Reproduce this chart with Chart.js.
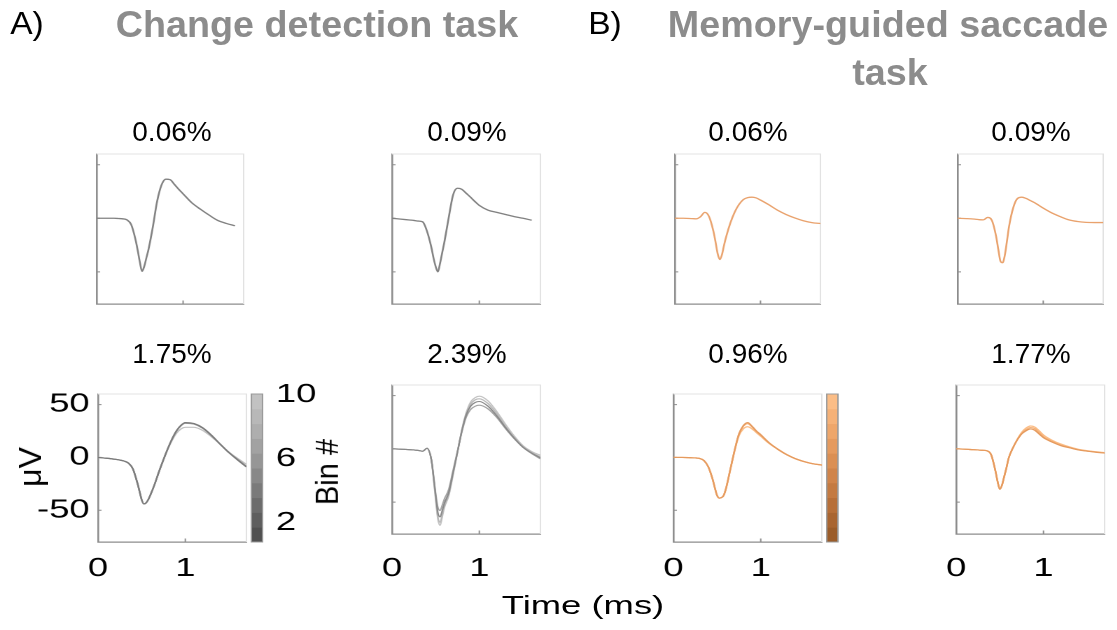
<!DOCTYPE html>
<html>
<head>
<meta charset="utf-8">
<script src="https://cdn.jsdelivr.net/npm/chart.js@4.4.0/dist/chart.umd.min.js"></script>
<style>
  html, body { margin: 0; padding: 0; background: #fff; }
  body { width: 1117px; height: 630px; overflow: hidden; position: relative; font-family: "Liberation Sans", Arial, sans-serif; }
  #figuur { position: absolute; left: 0; top: 0; height: 630px; transform-origin: 0 0; }
  #figuur canvas { position: absolute; }
  .tekst { position: absolute; white-space: nowrap; color: #000; line-height: 1; }
  .kop { font-weight: bold; color: #8c8c8c; }
</style>
</head>
<body>
<div id="figuur"></div>
<script>
"use strict";

const tijd = [0, 0.1, 0.2, 0.25, 0.3, 0.35, 0.4, 0.45, 0.475, 0.5, 0.525, 0.55, 0.575, 0.6, 0.65, 0.7, 0.75, 0.8, 0.85, 0.9, 0.95, 1.0, 1.1, 1.2, 1.3, 1.4, 1.5, 1.6, 1.7];

// Change detection task, bovenste rij: de bins vallen hier samen tot één lijn.
const cd006 = [0, 0, 0, -0.2, -0.5, -1.5, -6, -20, -30, -41, -49.5, -45, -37, -29, -8, 16, 31, 36.5, 36, 31.5, 27, 22.8, 14.5, 8.5, 3, -2, -4.8, -7, null];
const cd009 = [0, -0.8, -1.6, -2, -2.6, -3.3, -12, -27, -37, -45, -50, -42, -32, -22, 1, 22, 28, 27, 23.3, 19.6, 15.6, 12, 7.6, 5.5, 3.5, 1.6, 0, -1.8, null];

// Change detection task, onderste rij: een paar bins apart.
const cd175Bin1 = [0, -0.8, -1.8, -2.5, -3.5, -5.5, -11, -24, -32, -40, -44, -43, -40, -35.5, -25, -13, -2, 8.5, 18, 25.5, 30.5, 33, 32, 28, 21, 12.5, 4.5, -2.5, -9];
const cd175Bin5 = [0, -0.8, -1.8, -2.5, -3.5, -5.5, -11, -24, -32, -40, -44, -43, -40, -35.5, -25, -13, -2, 8.5, 17.5, 25, 30, 32.3, 31.5, 27.5, 20.5, 12.5, 4.5, -2, -8.5];
const cd175Bin10 = [0, -0.8, -1.8, -2.5, -3.5, -5.5, -11, -24, -32, -40, -44, -43, -40, -35.5, -25, -13, -2, 8, 16.5, 23, 27, 28.5, 28.5, 25.5, 19.5, 12.5, 5, -1, -6.5];

const cd239Bin1 = [0, -0.3, -0.8, -1, -1.5, -2.2, 0.5, -10, -26, -44, -60, -64, -58, -51, -41, -22, -3, 17, 32, 40, 43.5, 44.5, 40, 31, 20, 10, 1.5, -4, -8.5];
const cd239Bin4 = [0, -0.3, -0.8, -1, -1.5, -2.2, 0.5, -10, -25, -42, -55, -58, -53, -47, -38, -20, -2, 16, 30, 37, 40, 41, 37.5, 29.5, 19, 9.5, 1.5, -4.5, -9.5];
const cd239Bin7 = [0, -0.3, -0.8, -1, -1.5, -2.2, 0.5, -10, -27, -46, -64, -69, -62, -54, -43, -23, -3, 17.5, 33, 42, 46, 47, 42.5, 33, 21, 10.5, 2, -3.5, -7.5];
const cd239Bin10 = [0, -0.3, -0.8, -1, -1.5, -2.2, 0.5, -10, -28, -48, -66, -72, -64, -55, -44, -24, -3, 18, 34, 44, 48, 49.5, 45, 35, 23, 12, 3, -2.5, -6];

// Memory-guided saccade task, bovenste rij.
const mg006 = [0, 0, -0.3, -0.5, 1.5, 5.5, 1.5, -12, -22, -33, -38.5, -34, -25, -17, -4, 6, 13, 17.5, 19.3, 19.7, 19, 17, 12.5, 7.5, 3.5, 0.3, -2.3, -4, -4.9];
const mg009 = [0, -0.3, -0.8, -1.3, -1.5, 0.8, -2, -17, -29, -40, -41.5, -35, -22, -8, 10, 18.5, 19.7, 18.5, 16.5, 14.5, 12, 9.5, 5, 1.5, -1.5, -3, -3.8, -4, -4];

// Memory-guided saccade task, onderste rij.
const mg096Bin1 = [0, 0, -0.3, -0.5, -1, -3, -9, -21, -29, -36, -38.5, -38, -36, -30, -12, 6.5, 22, 30, 33, 29.5, 25, 21.5, 13.5, 7.5, 2.5, -1.3, -4, -6, -7.3];
const mg096Bin5 = [0, 0, -0.3, -0.5, -1, -3, -9, -21, -29, -36, -38.5, -38, -36, -30, -12, 6.5, 22, 29.5, 32, 29, 24.5, 21, 13.5, 7.5, 2.5, -1.3, -4, -6, -7.3];
const mg096Bin10 = [0, 0, -0.3, -0.5, -1, -3, -9, -21, -29, -36, -38.5, -38, -36, -30, -12, 6, 20.5, 27, 29, 27, 23.5, 20, 13, 7.5, 2.5, -1.3, -4, -6, -7];

const mg177Bin1 = [0, -0.3, -0.8, -1, -1.3, -1.8, -5.5, -21, -31, -38, -34, -26, -18, -9, 1, 8.5, 14, 17, 18.7, 17.5, 14, 10.5, 6.3, 3, 1, -1, -2.2, -3.2, -4];
const mg177Bin5 = [0, -0.3, -0.8, -1, -1.3, -1.8, -5.5, -21, -31, -38, -34, -26, -18, -9, 1, 8.5, 14.5, 18, 20, 19, 15.5, 11.5, 7, 3.5, 1.2, -0.8, -2, -3, -3.8];
const mg177Bin10 = [0, -0.3, -0.8, -1, -1.3, -1.8, -5.5, -21, -31, -38, -34, -26, -18, -9, 1, 9, 15.5, 19.5, 21.5, 20.5, 17, 13, 8, 4.5, 1.8, -0.4, -1.7, -2.7, -3.5];

// Labels van assen, kleurbalk en panelen.
const yTicks = [-50, 0, 50];
const xTicks = [0, 1];
const binTicks = [2, 6, 10];
const percentages = ["0.06%", "0.09%", "0.06%", "0.09%", "1.75%", "2.39%", "0.96%", "1.77%"];

// Kleuren per bin (1 = donker, 10 = licht).
const grijsBins = ["#505050", "#5e5e5e", "#6c6c6c", "#7a7a7a", "#888888", "#969696", "#a2a2a2", "#aeaeae", "#b8b8b8", "#c2c2c2"];
const oranjeBins = ["#9b5c29", "#a96530", "#b76f38", "#c47a41", "#d0844a", "#db8f53", "#e59a5e", "#eea66a", "#f5b177", "#fbbd86"];

// De plotjes in het origineel zijn horizontaal uitgerekt; ze worden smal getekend en daarna opgerekt.
const S = 1.4;
const LETTER = "'Liberation Sans', Arial, sans-serif";
const figuur = document.getElementById("figuur");
figuur.style.width = (1117 / S) + "px";
figuur.style.transform = "scaleX(" + S + ")";

// Lichte rand rond het plotvlak en korte maatstreepjes naar binnen.
const kaderPlugin = {
    id: "kader",
    beforeDatasetsDraw(chart) {
        const { ctx, chartArea: a, scales } = chart;
        ctx.save();
        ctx.strokeStyle = "#e2e2e2";
        ctx.lineWidth = 1;
        ctx.beginPath();
        ctx.moveTo(a.left, a.top);
        ctx.lineTo(a.right, a.top);
        ctx.lineTo(a.right, a.bottom);
        ctx.stroke();

        ctx.strokeStyle = "#8c8c8c";
        ctx.beginPath();
        yTicks.forEach(v => {
            const p = scales.y.getPixelForValue(v);
            ctx.moveTo(a.left, p);
            ctx.lineTo(a.left + 2.5, p);
        });
        xTicks.forEach(v => {
            const p = scales.x.getPixelForValue(v);
            ctx.moveTo(p, a.bottom);
            ctx.lineTo(p, a.bottom - 3.5);
        });
        ctx.stroke();
        ctx.restore();
    }
};

// Kleurbalk rechts naast het plotvlak, in tien blokjes.
const kleurbalkPlugin = {
    id: "kleurbalk",
    afterDraw(chart, args, opts) {
        if (!opts || !opts.kleuren) return;
        const { ctx, chartArea: a } = chart;
        const x0 = a.right + 3.5;
        const breedte = 8;
        const stap = (a.bottom - a.top) / opts.kleuren.length;
        ctx.save();
        opts.kleuren.forEach((k, i) => {
            ctx.fillStyle = k;
            ctx.fillRect(x0, a.bottom - (i + 1) * stap, breedte, stap + 0.5);
        });
        ctx.strokeStyle = "#9a9a9a";
        ctx.lineWidth = 1;
        ctx.strokeRect(x0, a.top, breedte, a.bottom - a.top);
        ctx.restore();
    }
};

function lijn(waarden, kleur, dikte) {
    return {
        data: waarden.map((v, i) => ({ x: tijd[i], y: v })),
        borderColor: kleur,
        borderWidth: dikte || 1.4,
        pointRadius: 0,
        cubicInterpolationMode: "monotone",
        spanGaps: false
    };
}

// Tekst met middelpunt (cx, cy) in pixels van de uiteindelijke figuur.
// rek = eigen horizontale uitrekking, draai = -90 voor verticale astitels.
function zetTekst(tekst, cx, cy, grootte, rek, klasse, draai) {
    const d = document.createElement("div");
    d.className = "tekst" + (klasse ? " " + klasse : "");
    d.textContent = tekst;
    d.style.left = cx + "px";
    d.style.top = cy + "px";
    d.style.fontSize = grootte + "px";
    const rot = draai ? " rotate(" + draai + "deg)" : "";
    d.style.transform = "translate(-50%, -50%) scaleX(" + rek + ")" + rot;
    document.body.appendChild(d);
}

// Maak één paneel; box = [links, boven, rechts, onder] in pixels van de uiteindelijke figuur.
function maakPaneel(p) {
    const [L, T, R, B] = p.box;
    const padL = 50, padR = 50, padT = 45, padB = 45;
    const w = Math.round((R - L) / S);
    const h = Math.round(B - T);

    const canvas = document.createElement("canvas");
    canvas.width = w + padL + padR;
    canvas.height = h + padT + padB;
    canvas.style.left = (L / S - padL) + "px";
    canvas.style.top = (T - padT) + "px";
    figuur.appendChild(canvas);

    const tickFont = { family: LETTER, size: 26 };
    const scales = {
        x: {
            type: "linear", min: 0, max: 1.7,
            grid: { display: false, drawTicks: false },
            border: { color: "#8c8c8c", width: 1.3 },
            afterBuildTicks: s => { s.ticks = xTicks.map(v => ({ value: v })); },
            ticks: { display: p.toonX, padding: p.xPad, color: "#000", font: tickFont, callback: v => String(v) },
            afterFit: s => { s.height = padB; }
        },
        y: {
            min: -80, max: 60,
            grid: { display: false, drawTicks: false },
            border: { color: "#8c8c8c", width: 1.3 },
            afterBuildTicks: s => { s.ticks = yTicks.map(v => ({ value: v })); },
            ticks: { display: p.toonY, padding: 6, color: "#000", font: tickFont, callback: v => String(v) },
            afterFit: s => { s.width = padL; }
        }
    };
    if (p.kleurbalk) {
        scales.bin = {
            position: "right", min: 0.8, max: 10.05,
            grid: { display: false, drawTicks: false },
            border: { display: false },
            afterBuildTicks: s => { s.ticks = binTicks.map(v => ({ value: v })); },
            ticks: { display: p.kleurbalk.labels, padding: 21, color: "#000", font: tickFont, callback: v => String(v) },
            afterFit: s => { s.width = padR; }
        };
    }

    new Chart(canvas, {
        type: "line",
        data: { datasets: p.lijnen },
        options: {
            responsive: false,
            animation: false,
            devicePixelRatio: 2,
            layout: { padding: { left: 0, top: padT, right: p.kleurbalk ? 0 : padR, bottom: 0 } },
            plugins: {
                legend: { display: false },
                tooltip: { enabled: false },
                kleurbalk: p.kleurbalk ? { kleuren: p.kleurbalk.kleuren } : {}
            },
            scales: scales
        },
        plugins: [kaderPlugin, kleurbalkPlugin]
    });
}

const panelen = [
    { box: [97, 154, 244.5, 304], toonX: false, toonY: false, xPad: 11,
      lijnen: [lijn(cd006, "#818181", 1.3)] },
    { box: [392, 154, 541, 304], toonX: false, toonY: false, xPad: 11,
      lijnen: [lijn(cd009, "#818181", 1.3)] },
    { box: [675, 154, 821, 303.5], toonX: false, toonY: false, xPad: 11,
      lijnen: [lijn(mg006, "#e9a26d", 1.3)] },
    { box: [958, 154, 1103.5, 303.5], toonX: false, toonY: false, xPad: 11,
      lijnen: [lijn(mg009, "#e9a26d", 1.3)] },
    { box: [98, 394, 246, 542], toonX: true, toonY: true, xPad: 11,
      kleurbalk: { kleuren: grijsBins, labels: true },
      lijnen: [lijn(cd175Bin1, grijsBins[3], 1.2), lijn(cd175Bin5, grijsBins[5], 1.2), lijn(cd175Bin10, grijsBins[9], 1.2)] },
    { box: [392.5, 385, 541.5, 534], toonX: true, toonY: false, xPad: 19,
      lijnen: [lijn(cd239Bin1, grijsBins[4], 1.1), lijn(cd239Bin4, grijsBins[6], 1.1), lijn(cd239Bin7, grijsBins[8], 1.1), lijn(cd239Bin10, grijsBins[9], 1.1)] },
    { box: [673, 394, 821, 542], toonX: true, toonY: false, xPad: 11,
      kleurbalk: { kleuren: oranjeBins, labels: false },
      lijnen: [lijn(mg096Bin1, oranjeBins[6], 1.2), lijn(mg096Bin5, oranjeBins[8], 1.2), lijn(mg096Bin10, oranjeBins[9], 1.2)] },
    { box: [955.5, 385, 1103.5, 534], toonX: true, toonY: false, xPad: 19,
      lijnen: [lijn(mg177Bin1, oranjeBins[6], 1.2), lijn(mg177Bin5, oranjeBins[8], 1.2), lijn(mg177Bin10, oranjeBins[9], 1.2)] }
];

panelen.forEach(maakPaneel);

// Kopjes en paneeltitels zijn in het origineel niet uitgerekt.
zetTekst("A)", 27, 23, 32, 1.05);
zetTekst("Change detection task", 317, 24, 37, 1.02, "kop");
zetTekst("B)", 605, 23, 32, 1.05);
zetTekst("Memory-guided saccade", 888, 24, 37, 1.02, "kop");
zetTekst("task", 890, 72, 37, 1.02, "kop");

const titelX = [172, 467, 748, 1031, 172, 467, 748, 1031];
percentages.forEach((t, i) => zetTekst(t, titelX[i], i < 4 ? 132 : 354, 28, 1.0));

zetTekst("\u03bcV", 30, 467, 32, 1.0, "", -90);
zetTekst("Bin #", 327, 472, 29, 1.1, "", -90);
zetTekst("Time (ms)", 583, 605, 26, 1.4);
</script>
</body>
</html>
